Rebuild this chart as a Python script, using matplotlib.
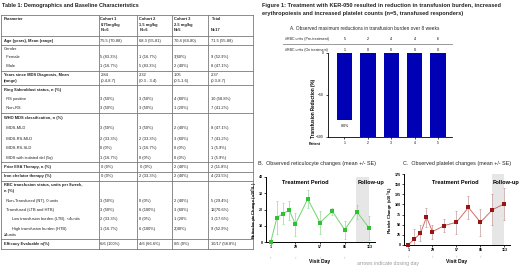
import matplotlib
matplotlib.use("Agg")
import matplotlib.pyplot as plt
from matplotlib.transforms import blended_transform_factory as blend

plt.rcParams['font.family'] = ['Liberation Sans', 'DejaVu Sans']

W, H = 520, 269

# ---- 表格数据 ----
table_title = "Table 1: Demographics and Baseline Characteristics"
col_heads = ["Parameter", "Cohort 1\n0.75mg/kg\n N=6", "Cohort 2\n1.5 mg/kg\n N=6",
             "Cohort 3\n2.5 mg/kg\nN=5", "Total\n\nN=17"]
params = ["Age (years), Mean (range)", "Gender", "  Female", "  Male",
          "Years since MDS Diagnosis, Mean\n(range)", "Ring Sideroblast status, n (%)",
          "  RS positive", "  Non-RS", "WHO MDS classification, n (%)", "  MDS-MLD",
          "  MDS-RS-MLD", "  MDS-RS-SLD", "  MDS with isolated del (5q)",
          "Prior ESA Therapy, n (%)", "Iron chelator therapy (%)",
          "RBC transfusion status, units per 8week,\nn (%)", "  Non-Transfused (NT), 0 units",
          "  Transfused (LTB and HTB)", "       Low transfusion burden (LTB), <4units",
          "       High transfusion burden (HTB)\n\u22654units", "Efficacy Evaluable n(%)"]
cohort1 = ["75.5 (70-88)", "", "5 (83.3%)", "1 (16.7%)", "2.84\n(0.4-8.7)", "", "3 (50%)",
           "3 (50%)", "", "3 (50%)", "2 (33.3%)", "0 (0%)", "1 (16.7%)", " 0 (0%)", " 0 (0%)",
           "", "3 (50%)", "3 (50%)", "2 (33.3%)", "1 (16.7%)", "6/6 (100%)"]
cohort2 = ["68.3 (55-81)", "", "1 (16.7%)", "5 (83.3%)", "2.32\n(0.3 - 3.4)", "", "3 (50%)",
           "3 (50%)", "", "3 (50%)", "2 (33.3%)", "1 (16.7%)", "0 (0%)", " 0 (0%)", "2 (33.3%)",
           "", "0 (0%)", "6 (100%)", "0 (0%)", "6 (100%)", "4/6 (66.6%)"]
cohort3 = ["70.4 (64-80)", "", "3(60%)", "2 (40%)", "1.05\n(0.5-1.6)", "", "4 (80%)",
           "1 (20%)", "", "2 (40%)", "3 (60%)", "0 (0%)", "0 (0%)", "2 (40%)", "2 (40%)",
           "", "2 (40%)", "3 (60%)", "1 (20%", "2(40%)", "0/5 (0%)"]
total = ["71.5 (55-88)", "", "9 (52.9%)", "8 (47.1%)", "2.37\n(0.3-8.7)", "", "10 (58.8%)",
         "7 (41.2%)", "", "8 (47.1%)", "7 (41.2%)", "1 (5.9%)", "1 (5.9%)", "2 (11.8%)",
         "4 (23.5%)", "", "5 (29.4%)", "12(70.6%)", "3 (17.6%)", "9 (52.9%)", "10/17 (58.8%)"]
bold_rows = [0, 4, 5, 8, 13, 14, 15, 20]

# ---- 图 A 数据 ----
patients = [1, 2, 3, 4, 5]
reduction = [-80, -100, -100, -100, -100]
rbc_pre = [5, 2, 4, 4, 6]
rbc_on = [1, 0, 0, 0, 0]

# ---- 图 B / C 数据 ----
days = [1, 8, 15, 22, 29, 43, 57, 71, 85, 99, 113]
day_ticks = [1, 29, 57, 85, 113]
dose_days = [1, 29, 57, 85]
retic_mean = [0, 15, 17.5, 19.5, 11, 26.5, 12, 19, 7.5, 18.5, 8.5]
retic_se = [0, 10, 6.3, 6, 7, 5.5, 6.8, 2.2, 5.6, 4.5, 7.3]
plt_mean = [1, 15, 29, 68.5, 33, 48, 56, 92.5, 56, 87, 101.5]
plt_se = [5, 25, 20, 23, 17, 16, 28, 29, 33, 38, 40]

fig = plt.figure(figsize=(W / 100, H / 100), dpi=100)
ax0 = fig.add_axes([0, 0, 1, 1])
ax0.set_xlim(0, W)
ax0.set_ylim(H, 0)
ax0.axis('off')


def px_axes(x0, y0, x1, y1):
    # 按像素位置建坐标轴
    return fig.add_axes([x0 / W, 1 - y1 / H, (x1 - x0) / W, (y1 - y0) / H])


def put_lines(x, y, s, step, **kw):
    # 多行文字逐行摆放
    for i, line in enumerate(s.split('\n')):
        ax0.text(x, y + i * step, line, **kw)


# ---- 表格 ----
txt = '#222222'
line_c = '#7a7a7a'
fs_tab = 2.9
ax0.text(2, 5, table_title, fontsize=4.0, fontweight='bold', color=txt, va='center')
col_x = [1, 99, 137, 172, 208, 253]
text_x = [3.5, 100.5, 139, 174, 211]
row_y = [41, 49, 57, 66, 75, 90, 99, 108, 118, 128, 139, 148, 158, 167, 176.5, 185, 201,
         210, 219, 229, 244]
hlines = [15, 36, 44.5, 71, 85, 113, 162, 172, 181, 239, 249]
for y in hlines:
    ax0.plot([col_x[0], col_x[-1]], [y, y], color=line_c, lw=0.6)
for x in col_x:
    ax0.plot([x, x], [15, 249], color=line_c, lw=0.6)
for j, head in enumerate(col_heads):
    put_lines(text_x[j], 19, head, 5.6, fontsize=fs_tab, fontweight='bold', color=txt, va='center')
for i, p in enumerate(params):
    fw = 'bold' if i in bold_rows else 'normal'
    put_lines(text_x[0], row_y[i], p, 5.6, fontsize=fs_tab, fontweight=fw, color=txt, va='center')
    for j, col in enumerate([cohort1, cohort2, cohort3, total]):
        put_lines(text_x[j + 1], row_y[i], col[i], 5.6, fontsize=fs_tab, color=txt, va='center')

# ---- 总标题 ----
ax0.text(262, 5, "Figure 1: Treatment with KER-050 resulted in reduction in transfusion burden, increased",
         fontsize=4.05, fontweight='bold', color=txt, va='center')
ax0.text(262, 14, "erythropoiesis and increased platelet counts (n=5, transfused responders)",
         fontsize=4.05, fontweight='bold', color=txt, va='center')

# ---- 图 A ----
ax_a = px_axes(328, 53, 452, 137)
ax_a.bar(patients, reduction, width=0.66, color='#0000b4', zorder=2)
ax_a.set_xlim(0.295, 5.6)
ax_a.set_ylim(-100, 0)
ax_a.set_xticks(patients)
ax_a.set_yticks([0, -50, -100])
for s in ['top', 'right']:
    ax_a.spines[s].set_visible(False)
for s in ['left', 'bottom']:
    ax_a.spines[s].set_linewidth(0.6)
ax_a.tick_params(length=1.5, width=0.5, labelsize=2.4, pad=1.5)
tr_a = blend(ax_a.transData, ax0.transData)
ax0.text(365, 29, "A. Observed maximum reductions in transfusion burden over 8 weeks",
         fontsize=3.4, color=txt, ha='center', va='center')
ax0.text(285, 39, "#RBC units (Pre-treatment)", fontsize=2.6, color=txt, va='center')
ax0.text(285, 50, "#RBC units (On treatment)", fontsize=2.6, color=txt, va='center')
ax0.plot([283, 452], [44, 44], color='#888888', lw=0.6)
for p, a, b in zip(patients, rbc_pre, rbc_on):
    ax_a.text(p, 39, str(a), transform=tr_a, fontsize=2.6, ha='center', va='center')
    ax_a.text(p, 50, str(b), transform=tr_a, fontsize=2.6, ha='center', va='center')
ax_a.text(patients[0], 126, "%d%%" % reduction[0], transform=tr_a, fontsize=2.5,
          ha='center', va='center')
ax0.text(315, 144, "Patient", fontsize=2.5, fontweight='bold', ha='center', va='center')
ax0.text(313, 108, "Transfusion Reduction (%)", fontsize=3.3, fontweight='bold',
         rotation=90, ha='center', va='center')


def line_panel(ax, mean, se, mk, ln, eb, ymax, yticks, xlim, title, title_x, ylabel, ylab_x,
               arrow_y, tp_x):
    # 随访期灰色背景
    ax.axvspan(98, 113, color='#e6e6e6', lw=0, zorder=0)
    ax.errorbar(days, mean, yerr=se, fmt='-', color=ln, lw=0.7, ecolor=eb, elinewidth=0.5,
                capsize=1, capthick=0.5, zorder=2)
    ax.plot(days, mean, 's', color=mk, ms=2.9, mew=0, zorder=3, clip_on=False)
    ax.set_xlim(*xlim)
    ax.set_ylim(0, ymax)
    ax.set_xticks(day_ticks)
    ax.set_yticks(yticks)
    for s in ['top', 'right']:
        ax.spines[s].set_visible(False)
    for s in ['left', 'bottom']:
        ax.spines[s].set_linewidth(0.7)
    ax.tick_params(length=1.5, width=0.5, labelsize=2.6, pad=0.9)
    for lb in ax.get_xticklabels() + ax.get_yticklabels():
        lb.set_fontweight('bold')
    tr = blend(ax.transData, ax0.transData)
    for d in dose_days:
        ax.text(d, arrow_y, '\u2191', transform=tr, fontsize=2.6, color='#777777',
                ha='center', va='center')
    ax.text(tp_x, 182.5, "Treatment Period", transform=tr, fontsize=4.1, fontweight='bold',
            ha='center', va='center')
    ax.text(115, 182.5, "Follow-up", transform=tr, fontsize=4.1, fontweight='bold',
            ha='center', va='center', clip_on=False)
    ax0.text(title_x, 164, title, fontsize=3.9, color=txt, va='center')
    ax0.text(ylab_x, 210, ylabel, fontsize=2.9, fontweight='bold', rotation=90,
             ha='center', va='center')
    ax.text(57, 262, "Visit Day", transform=tr, fontsize=3.6, fontweight='bold',
            ha='center', va='center')


ax_b = px_axes(266, 177, 375, 242)
line_panel(ax_b, retic_mean, retic_se, '#2fc12f', '#6ed66e', '#9ad89a', 40, [0, 10, 20, 30, 40],
           (-4.4, 119.5), "B.  Observed reticulocyte changes (mean +/- SE)", 258,
           "Reticulocyte Change (x10$^9$/L)", 254.5, 257.5, 40)
ax_c = px_axes(404, 174, 510, 245)
line_panel(ax_c, plt_mean, plt_se, '#9b1414', '#d46a6a', '#c49a9a', 175,
           [0, 25, 50, 75, 100, 125, 150, 175],
           (-4.25, 119.5), "C.  Observed platelet changes (mean +/- SE)", 403,
           "Platelet Change (x10$^9$/L)", 390.5, 257, 56)
ax0.text(357, 263, "arrows indicate dosing day", fontsize=3.7, color='#999999', va='center')

fig.savefig("out.png", dpi=100)
